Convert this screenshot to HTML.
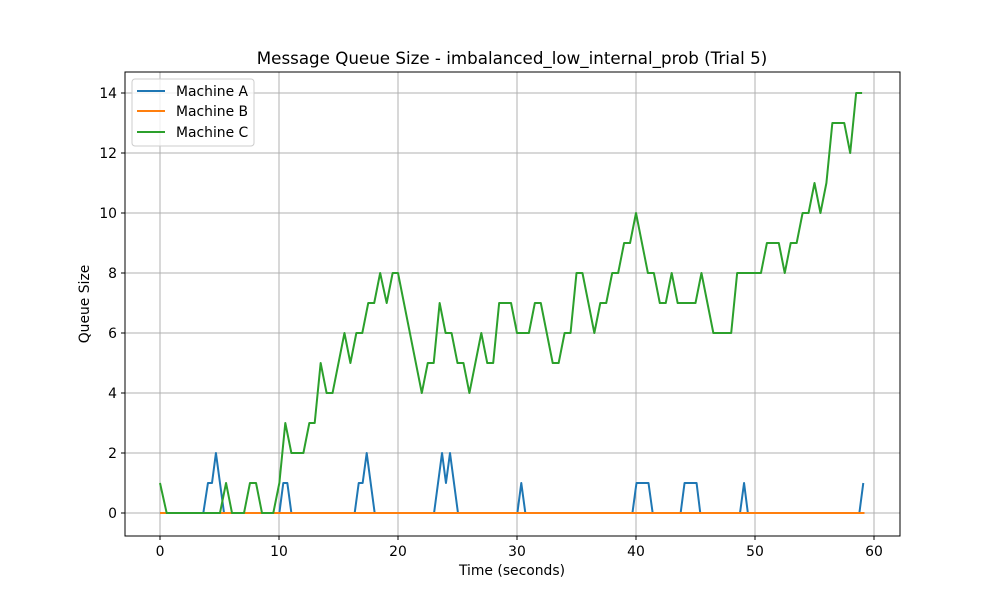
<!DOCTYPE html>
<html><head><meta charset="utf-8"><style>
body{margin:0;background:#fff;}
svg text{font-family:"DejaVu Sans","Liberation Sans",sans-serif;fill:#000;}
</style></head><body>
<svg id="chart" width="1000" height="600" viewBox="0 0 1000 600" xmlns="http://www.w3.org/2000/svg">
<rect width="1000" height="600" fill="#fff"/>
<g id="grid"></g><g id="series"></g><g id="ticks"></g>
<rect x="125" y="72" width="775" height="464" fill="none" stroke="#000" stroke-width="1"/>
<text x="512" y="64" font-size="16.7" text-anchor="middle">Message Queue Size - imbalanced_low_internal_prob (Trial 5)</text>
<text x="512" y="575" font-size="13.9" text-anchor="middle">Time (seconds)</text>
<text x="89" y="304" font-size="13.9" text-anchor="middle" transform="rotate(-90 89 304)">Queue Size</text>
<g>
<rect x="132" y="79" width="122" height="67" rx="3" fill="#fff" fill-opacity="0.8" stroke="#ccc"/>
<g><line x1="137" y1="91" x2="165" y2="91" stroke="#1f77b4" stroke-width="2"/><text x="176" y="96" font-size="13.9">Machine A</text></g>
<g><line x1="137" y1="111" x2="165" y2="111" stroke="#ff7f0e" stroke-width="2"/><text x="176" y="116" font-size="13.9">Machine B</text></g>
<g><line x1="137" y1="132" x2="165" y2="132" stroke="#2ca02c" stroke-width="2"/><text x="176" y="137" font-size="13.9">Machine C</text></g>
</g>
</svg>
<script>
const xTicks=[0,10,20,30,40,50,60];
const yTicks=[0,2,4,6,8,10,12,14];
const aTimes=[0,3.64,4.03,4.37,4.7,5.38,10.03,10.36,10.7,11.04,16.36,16.7,17.03,17.37,18.04,23.03,23.7,24.03,24.37,25.04,30.03,30.36,30.7,39.7,40.04,41.05,41.4,43.75,44.08,45.09,45.4,48.74,49.08,49.4,58.77,59.1];
const aValues=[0,0,1,1,2,0,0,1,1,0,0,1,1,2,0,0,2,1,2,0,0,1,0,0,1,1,0,0,1,1,0,0,1,0,0,1];
const bTimes=[0,59.2];
const bValues=[0,0];
const cTimes=[0,0.56,5.04,5.55,6.05,7.06,7.56,8.07,8.57,9.52,10.03,10.53,11.04,12.05,12.55,13,13.5,14,14.5,15.5,16,16.5,17,17.5,18,18.5,19.05,19.55,20,22,22.5,23,23.5,24,24.5,25,25.5,26,27,27.5,28,28.5,29.5,30,31,31.5,32,33,33.5,34,34.5,35,35.5,36.5,37,37.5,38,38.5,39,39.5,40,41,41.5,42,42.5,43,43.5,45,45.5,46.5,48,48.5,50.5,51,52,52.5,53,53.5,54,54.5,55,55.5,56,56.5,57.5,58,58.5,59];
const cValues=[1,0,0,1,0,0,1,1,0,0,1,3,2,2,3,3,5,4,4,6,5,6,6,7,7,8,7,8,8,4,5,5,7,6,6,5,5,4,6,5,5,7,7,6,6,7,7,5,5,6,6,8,8,6,7,7,8,8,9,9,10,8,8,7,7,8,7,7,8,6,6,8,8,9,9,8,9,9,10,10,11,10,11,13,13,12,14,14];
const NS="http://www.w3.org/2000/svg";
const X=t=>160+t*(874-160)/60;
const Y=v=>513-v*30;
function mk(tag,attrs,parent){const e=document.createElementNS(NS,tag);for(const k in attrs)e.setAttribute(k,attrs[k]);parent.appendChild(e);return e;}
const grid=document.getElementById('grid'),ticks=document.getElementById('ticks'),series=document.getElementById('series');
xTicks.forEach(t=>{
 const g=mk('line',{x1:X(t),x2:X(t),y1:72,y2:536,stroke:'#b0b0b0','stroke-width':1},grid);
 
 
 mk('line',{x1:X(t),x2:X(t),y1:536,y2:540,stroke:'#000'},ticks);
 const tx=mk('text',{x:X(t),y:556,'font-size':13.9,'text-anchor':'middle'},ticks);
 tx.textContent=t;
 
 
});
yTicks.forEach(v=>{
 const g=mk('line',{x1:125,x2:900,y1:Y(v),y2:Y(v),stroke:'#b0b0b0','stroke-width':1},grid);
 
 
 mk('line',{x1:121,x2:125,y1:Y(v),y2:Y(v),stroke:'#000'},ticks);
 const tx=mk('text',{x:117,y:Y(v)+5,'font-size':13.9,'text-anchor':'end'},ticks);
 tx.textContent=v;
 
 
});
function line(ts,vs,color,name){
 const p=mk('polyline',{points:ts.map((t,i)=>X(t)+','+Y(vs[i])).join(' '),fill:'none',stroke:color,'stroke-width':2,'stroke-linejoin':'round'},series);
 
 
}
line(aTimes,aValues,'#1f77b4','machine-a-line');
line(bTimes,bValues,'#ff7f0e','machine-b-line');
line(cTimes,cValues,'#2ca02c','machine-c-line');
</script>
</body></html>
